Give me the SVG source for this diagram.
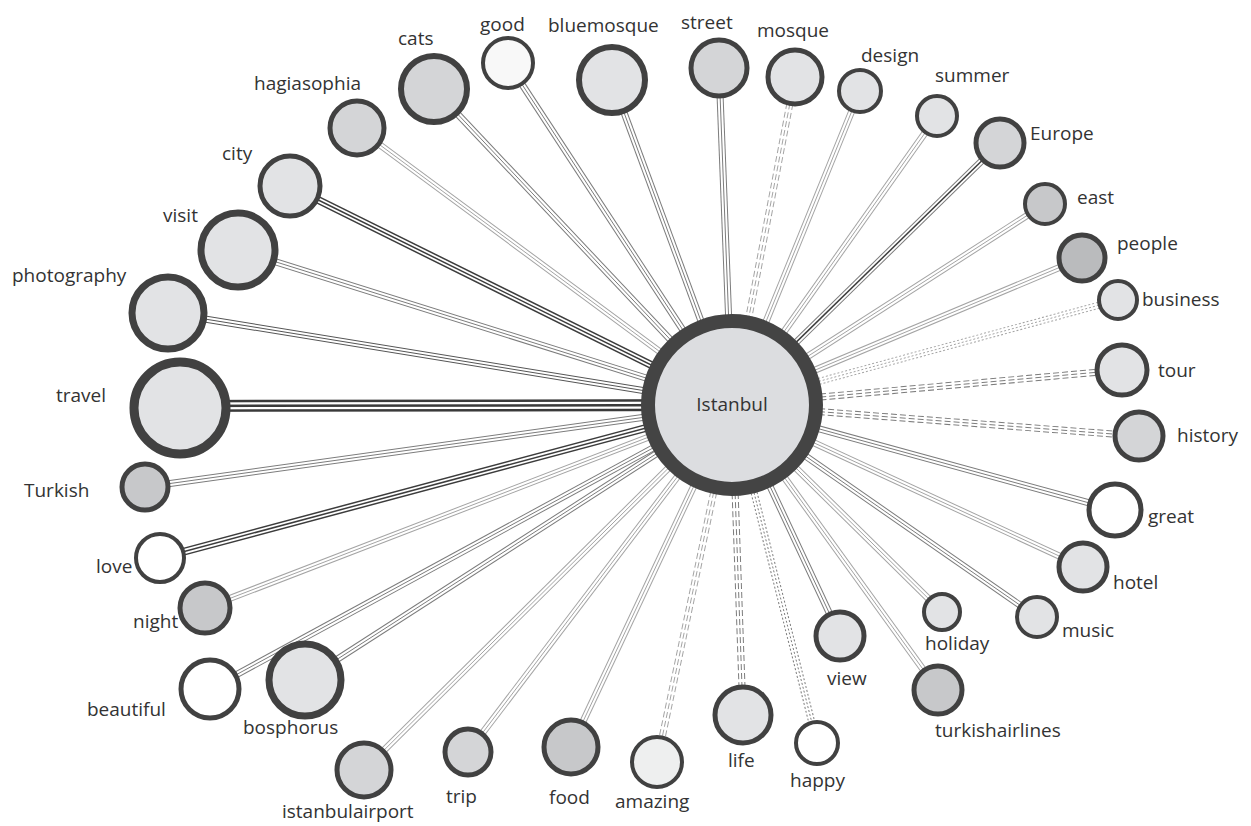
<svg xmlns="http://www.w3.org/2000/svg" width="1251" height="826" viewBox="0 0 1251 826">
<style>
text{font-family:"Open Sans","Noto Sans","DejaVu Sans",sans-serif;font-size:19px;fill:#333}
.e line{fill:none;stroke-linecap:butt}
.e .o{stroke-width:7}
.e .w{stroke:#fff;stroke-width:5}
.e .c{stroke-width:1}
.lt .o,.lt .c{stroke:#a4a4a4}
.md .o,.md .c{stroke:#7c7c7c}
.dk .o,.dk .c{stroke:#3c3c3c}
.dk .o{stroke-width:8}
.dk .c{stroke-width:1.5}
.th .o,.th .c{stroke:#3a3a3a}
.th .o{stroke-width:12}
.th .w{stroke-width:7}
.th .c{stroke-width:2.5}
.ds .o,.ds .c{stroke-dasharray:6 3}
.dt .o,.dt .c{stroke-dasharray:2 2}
.n circle{stroke:#414141;stroke-width:5;fill:#e2e3e5}
.d1 circle{fill:#d4d5d7}
.d2 circle{fill:#c7c8ca}
.d3 circle{fill:#babbbd}
.wh circle{fill:#fff}
</style>
<g id="connectors">
<g class="e lt"><line class="o" x1="357" y1="128" x2="732" y2="405"/><line class="w" x1="357" y1="128" x2="732" y2="405"/><line class="c" x1="357" y1="128" x2="732" y2="405"/></g>
<g class="e md"><line class="o" x1="434" y1="89" x2="732" y2="405"/><line class="w" x1="434" y1="89" x2="732" y2="405"/><line class="c" x1="434" y1="89" x2="732" y2="405"/></g>
<g class="e md"><line class="o" x1="508" y1="63" x2="732" y2="405"/><line class="w" x1="508" y1="63" x2="732" y2="405"/><line class="c" x1="508" y1="63" x2="732" y2="405"/></g>
<g class="e md"><line class="o" x1="612" y1="80" x2="732" y2="405"/><line class="w" x1="612" y1="80" x2="732" y2="405"/><line class="c" x1="612" y1="80" x2="732" y2="405"/></g>
<g class="e md"><line class="o" x1="719" y1="68" x2="732" y2="405"/><line class="w" x1="719" y1="68" x2="732" y2="405"/><line class="c" x1="719" y1="68" x2="732" y2="405"/></g>
<g class="e lt ds"><line class="o" x1="795" y1="77" x2="732" y2="405"/><line class="w" x1="795" y1="77" x2="732" y2="405"/><line class="c" x1="795" y1="77" x2="732" y2="405"/></g>
<g class="e lt"><line class="o" x1="860" y1="91" x2="732" y2="405"/><line class="w" x1="860" y1="91" x2="732" y2="405"/><line class="c" x1="860" y1="91" x2="732" y2="405"/></g>
<g class="e lt"><line class="o" x1="937" y1="116" x2="732" y2="405"/><line class="w" x1="937" y1="116" x2="732" y2="405"/><line class="c" x1="937" y1="116" x2="732" y2="405"/></g>
<g class="e md"><line class="o" x1="1000" y1="143" x2="732" y2="405"/><line class="w" x1="1000" y1="143" x2="732" y2="405"/><line class="c" x1="1000" y1="143" x2="732" y2="405" style="stroke:#3c3c3c;stroke-width:1.5"/></g>
<g class="e lt"><line class="o" x1="1045" y1="204" x2="732" y2="405"/><line class="w" x1="1045" y1="204" x2="732" y2="405"/><line class="c" x1="1045" y1="204" x2="732" y2="405"/></g>
<g class="e lt"><line class="o" x1="1082" y1="258" x2="732" y2="405"/><line class="w" x1="1082" y1="258" x2="732" y2="405"/><line class="c" x1="1082" y1="258" x2="732" y2="405"/></g>
<g class="e lt dt"><line class="o" x1="1118" y1="300" x2="732" y2="405"/><line class="w" x1="1118" y1="300" x2="732" y2="405"/><line class="c" x1="1118" y1="300" x2="732" y2="405"/></g>
<g class="e md ds"><line class="o" x1="1122" y1="370" x2="732" y2="405"/><line class="w" x1="1122" y1="370" x2="732" y2="405"/><line class="c" x1="1122" y1="370" x2="732" y2="405"/></g>
<g class="e md ds"><line class="o" x1="1139" y1="436" x2="732" y2="405"/><line class="w" x1="1139" y1="436" x2="732" y2="405"/><line class="c" x1="1139" y1="436" x2="732" y2="405"/></g>
<g class="e md"><line class="o" x1="1115" y1="510" x2="732" y2="405"/><line class="w" x1="1115" y1="510" x2="732" y2="405"/><line class="c" x1="1115" y1="510" x2="732" y2="405"/></g>
<g class="e lt"><line class="o" x1="1083" y1="567" x2="732" y2="405"/><line class="w" x1="1083" y1="567" x2="732" y2="405"/><line class="c" x1="1083" y1="567" x2="732" y2="405"/></g>
<g class="e md"><line class="o" x1="1037" y1="617" x2="732" y2="405"/><line class="w" x1="1037" y1="617" x2="732" y2="405"/><line class="c" x1="1037" y1="617" x2="732" y2="405"/></g>
<g class="e lt"><line class="o" x1="942" y1="612" x2="732" y2="405"/><line class="w" x1="942" y1="612" x2="732" y2="405"/><line class="c" x1="942" y1="612" x2="732" y2="405"/></g>
<g class="e md"><line class="o" x1="840" y1="636" x2="732" y2="405"/><line class="w" x1="840" y1="636" x2="732" y2="405"/><line class="c" x1="840" y1="636" x2="732" y2="405"/></g>
<g class="e lt"><line class="o" x1="938" y1="690" x2="732" y2="405"/><line class="w" x1="938" y1="690" x2="732" y2="405"/><line class="c" x1="938" y1="690" x2="732" y2="405"/></g>
<g class="e md dt"><line class="o" x1="817" y1="743" x2="732" y2="405"/><line class="w" x1="817" y1="743" x2="732" y2="405"/><line class="c" x1="817" y1="743" x2="732" y2="405"/></g>
<g class="e md ds"><line class="o" x1="743" y1="715" x2="732" y2="405"/><line class="w" x1="743" y1="715" x2="732" y2="405"/><line class="c" x1="743" y1="715" x2="732" y2="405"/></g>
<g class="e lt ds"><line class="o" x1="657" y1="762" x2="732" y2="405"/><line class="w" x1="657" y1="762" x2="732" y2="405"/><line class="c" x1="657" y1="762" x2="732" y2="405"/></g>
<g class="e lt"><line class="o" x1="571" y1="747" x2="732" y2="405"/><line class="w" x1="571" y1="747" x2="732" y2="405"/><line class="c" x1="571" y1="747" x2="732" y2="405"/></g>
<g class="e lt"><line class="o" x1="468" y1="752" x2="732" y2="405"/><line class="w" x1="468" y1="752" x2="732" y2="405"/><line class="c" x1="468" y1="752" x2="732" y2="405"/></g>
<g class="e lt"><line class="o" x1="364" y1="770" x2="732" y2="405"/><line class="w" x1="364" y1="770" x2="732" y2="405"/><line class="c" x1="364" y1="770" x2="732" y2="405"/></g>
<g class="e md"><line class="o" x1="305" y1="680" x2="732" y2="405"/><line class="w" x1="305" y1="680" x2="732" y2="405"/><line class="c" x1="305" y1="680" x2="732" y2="405"/></g>
<g class="e md"><line class="o" x1="210" y1="689" x2="732" y2="405"/><line class="w" x1="210" y1="689" x2="732" y2="405"/><line class="c" x1="210" y1="689" x2="732" y2="405"/></g>
<g class="e lt"><line class="o" x1="205" y1="608" x2="732" y2="405"/><line class="w" x1="205" y1="608" x2="732" y2="405"/><line class="c" x1="205" y1="608" x2="732" y2="405"/></g>
<g class="e dk"><line class="o" x1="160" y1="558" x2="732" y2="405"/><line class="w" x1="160" y1="558" x2="732" y2="405"/><line class="c" x1="160" y1="558" x2="732" y2="405"/></g>
<g class="e md"><line class="o" x1="145" y1="487" x2="732" y2="405"/><line class="w" x1="145" y1="487" x2="732" y2="405"/><line class="c" x1="145" y1="487" x2="732" y2="405"/></g>
<g class="e th"><line class="o" x1="180" y1="406" x2="732" y2="405"/><line class="w" x1="180" y1="406" x2="732" y2="405"/><line class="c" x1="180" y1="406" x2="732" y2="405"/></g>
<g class="e md"><line class="o" x1="168" y1="313" x2="732" y2="405" style="stroke:#555"/><line class="w" x1="168" y1="313" x2="732" y2="405"/><line class="c" x1="168" y1="313" x2="732" y2="405" style="stroke:#555"/></g>
<g class="e md"><line class="o" x1="238" y1="250" x2="732" y2="405"/><line class="w" x1="238" y1="250" x2="732" y2="405"/><line class="c" x1="238" y1="250" x2="732" y2="405"/></g>
<g class="e dk"><line class="o" x1="290" y1="186" x2="732" y2="405"/><line class="w" x1="290" y1="186" x2="732" y2="405"/><line class="c" x1="290" y1="186" x2="732" y2="405"/></g>
</g>
<g id="istanbul"><circle cx="732" cy="405" r="84" fill="#dcdde0" stroke="#444" stroke-width="14"/><text x="732" y="411" text-anchor="middle">Istanbul</text></g>
<g id="hagiasophia" class="n d1"><circle cx="357" cy="128" r="27"/><text x="254" y="90">hagiasophia</text></g>
<g id="cats" class="n d1"><circle cx="434" cy="89" r="33" style="stroke-width:6"/><text x="398" y="45">cats</text></g>
<g id="good" class="n wh"><circle cx="508" cy="63" r="25" style="stroke-width:4;fill:#f8f8f8"/><text x="480" y="31">good</text></g>
<g id="bluemosque" class="n"><circle cx="612" cy="80" r="33" style="stroke-width:6"/><text x="548" y="32">bluemosque</text></g>
<g id="street" class="n d1"><circle cx="719" cy="68" r="28"/><text x="681" y="29">street</text></g>
<g id="mosque" class="n"><circle cx="795" cy="77" r="27"/><text x="757" y="37">mosque</text></g>
<g id="design" class="n"><circle cx="860" cy="91" r="21" style="stroke-width:4"/><text x="861" y="62">design</text></g>
<g id="summer" class="n"><circle cx="937" cy="116" r="20" style="stroke-width:4"/><text x="935" y="82">summer</text></g>
<g id="Europe" class="n d1"><circle cx="1000" cy="143" r="24"/><text x="1030" y="140">Europe</text></g>
<g id="east" class="n d2"><circle cx="1045" cy="204" r="20" style="stroke-width:4"/><text x="1077" y="204">east</text></g>
<g id="people" class="n d3"><circle cx="1082" cy="258" r="23"/><text x="1117" y="250">people</text></g>
<g id="business" class="n"><circle cx="1118" cy="300" r="19" style="stroke-width:4"/><text x="1142" y="306">business</text></g>
<g id="tour" class="n"><circle cx="1122" cy="370" r="25"/><text x="1158" y="377">tour</text></g>
<g id="history" class="n d1"><circle cx="1139" cy="436" r="24"/><text x="1177" y="442">history</text></g>
<g id="great" class="n wh"><circle cx="1115" cy="510" r="26"/><text x="1148" y="523">great</text></g>
<g id="hotel" class="n"><circle cx="1083" cy="567" r="24"/><text x="1113" y="589">hotel</text></g>
<g id="music" class="n"><circle cx="1037" cy="617" r="20" style="stroke-width:4"/><text x="1062" y="637">music</text></g>
<g id="holiday" class="n"><circle cx="942" cy="612" r="18" style="stroke-width:4"/><text x="925" y="650">holiday</text></g>
<g id="view" class="n"><circle cx="840" cy="636" r="24"/><text x="827" y="685">view</text></g>
<g id="turkishairlines" class="n d2"><circle cx="938" cy="690" r="24"/><text x="935" y="737">turkishairlines</text></g>
<g id="happy" class="n wh"><circle cx="817" cy="743" r="21" style="stroke-width:4"/><text x="790" y="787">happy</text></g>
<g id="life" class="n"><circle cx="743" cy="715" r="28"/><text x="728" y="767">life</text></g>
<g id="amazing" class="n"><circle cx="657" cy="762" r="25" style="stroke-width:4;fill:#eeefef"/><text x="615" y="808">amazing</text></g>
<g id="food" class="n d2"><circle cx="571" cy="747" r="27"/><text x="549" y="804">food</text></g>
<g id="trip" class="n d1"><circle cx="468" cy="752" r="23"/><text x="446" y="803">trip</text></g>
<g id="istanbulairport" class="n d1"><circle cx="364" cy="770" r="27"/><text x="282" y="818">istanbulairport</text></g>
<g id="bosphorus" class="n"><circle cx="305" cy="680" r="36" style="stroke-width:7"/><text x="243" y="734">bosphorus</text></g>
<g id="beautiful" class="n wh"><circle cx="210" cy="689" r="29"/><text x="87" y="716">beautiful</text></g>
<g id="night" class="n d2"><circle cx="205" cy="608" r="25"/><text x="133" y="628">night</text></g>
<g id="love" class="n wh"><circle cx="160" cy="558" r="24" style="stroke-width:4"/><text x="96" y="573">love</text></g>
<g id="Turkish" class="n d2"><circle cx="145" cy="487" r="23"/><text x="24" y="497">Turkish</text></g>
<g id="travel" class="n"><circle cx="180" cy="408" r="46" style="stroke-width:9"/><text x="56" y="402">travel</text></g>
<g id="photography" class="n"><circle cx="168" cy="313" r="36" style="stroke-width:7"/><text x="12" y="282">photography</text></g>
<g id="visit" class="n"><circle cx="238" cy="250" r="37" style="stroke-width:7"/><text x="163" y="222">visit</text></g>
<g id="city" class="n"><circle cx="290" cy="186" r="30"/><text x="222" y="160">city</text></g>
</svg>
